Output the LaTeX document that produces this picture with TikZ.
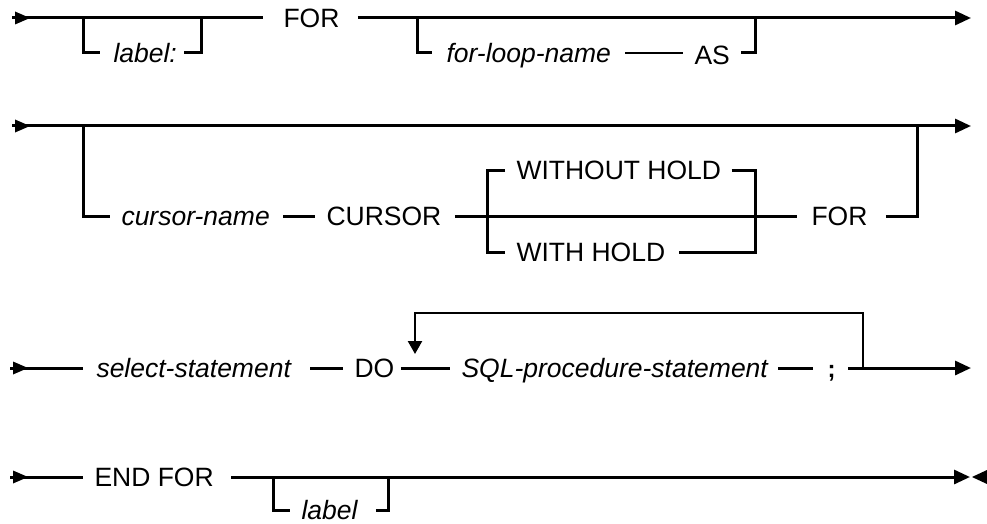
\documentclass[tikz,border=0pt]{standalone}
\usepackage{fontspec}
\setmainfont{Liberation Sans}
\usetikzlibrary{arrows.meta}
\newcommand\synstart[1]{\fill (#1) ++(3,-6.5) -- ++(15,6.5) -- ++(-15,6.5) -- cycle;}
\begin{document}
\begin{tikzpicture}[x=1pt,y=-1pt,
  line width=3pt,
  kw/.style={inner sep=0pt, anchor=west, text height=19pt, text depth=0pt, font=\fontsize{26.5}{30}\selectfont},
  var/.style={kw, font=\fontsize{26.5}{30}\selectfont\itshape},
  endarrow/.style={-{Triangle[length=16pt,width=14pt]}},
  thinline/.style={line width=1.5pt},
  loopline/.style={line width=2.4pt, -{Triangle[length=13pt,width=14pt]}}
]
\useasboundingbox (0,0) rectangle (987,524);
% ---------- row 1 ----------
\coordinate (s1) at (12,18);
\coordinate (e1) at (971,18);
\coordinate (j1a) at (83,18);
\coordinate (j1b) at (201,18);
\coordinate (j1c) at (417,18);
\coordinate (j1d) at (755,18);
\node[kw] (for1) at (282,18) {FOR};
\node[var] (lab1) at (112,53) {label:};
\node[var] (flname) at (445,53) {for-loop-name};
\node[kw, text height=24pt] (as) at (693,53) {AS};
\synstart{s1}
\draw (s1) -- ([xshift=-19]for1.west);
\draw[endarrow] ([xshift=17]for1.east) -- (e1);
\draw (j1a) |- ([xshift=-12]lab1.west);
\draw ([xshift=6]lab1.east) -| (j1b);
\draw (j1c) |- ([xshift=-13]flname.west);
\draw[thinline] ([xshift=13]flname.east) -- ([xshift=-10]as.west);
\draw ([xshift=10]as.east) -| (j1d);
% ---------- row 2 ----------
\coordinate (s2) at (12,126);
\coordinate (e2) at (971,126);
\coordinate (j2a) at (83,126);
\coordinate (j2b) at (917,126);
\coordinate (c2b) at (487,252);
\coordinate (c2d) at (755,252);
\node[var] (curname) at (120,216) {cursor-name};
\node[kw] (cursor) at (325,216) {CURSOR};
\node[kw] (wohold) at (515,170) {WITHOUT HOLD};
\node[kw] (whold) at (515,252) {WITH HOLD};
\node[kw] (for2) at (810,216) {FOR};
\synstart{s2}
\draw[endarrow] (s2) -- (e2);
\draw (j2a) |- ([xshift=-10]curname.west);
\draw ([xshift=12]curname.east) -- ([xshift=-10]cursor.west);
\draw ([xshift=12]cursor.east) -- ([xshift=-13]for2.west);
\draw ([xshift=-10]wohold.west) -| (c2b) -- ([xshift=-10]whold.west);
\draw ([xshift=9]wohold.east) -| (c2d) -- ([xshift=12]whold.east);
\draw ([xshift=17]for2.east) -| (j2b);
% ---------- row 3 ----------
\coordinate (s3) at (10,368);
\coordinate (e3) at (971,368);
\coordinate (lpa) at (863,368);
\coordinate (lpb) at (415,313);
\coordinate (lpc) at (415,354);
\node[var] (sel) at (95,368) {select-statement};
\node[kw] (do) at (353,368) {DO};
\node[var] (sql) at (460,368) {SQL-procedure-statement};
\node[kw, font=\fontsize{24}{28}\selectfont\bfseries] (semi) at (826,368) {;};
\synstart{s3}
\draw (s3) -- ([xshift=-12]sel.west);
\draw ([xshift=18]sel.east) -- ([xshift=-10]do.west);
\draw ([xshift=5]do.east) -- ([xshift=-10]sql.west);
\draw ([xshift=9]sql.east) -- ([xshift=-13]semi.west);
\draw[endarrow] ([xshift=11]semi.east) -- (e3);
\draw[loopline] (lpa) |- (lpb) -- (lpc);
% ---------- row 4 ----------
\coordinate (s4) at (10,477);
\coordinate (e4) at (970,477);
\coordinate (stop) at (987,477);
\coordinate (j4a) at (273,477);
\coordinate (j4b) at (388,477);
\node[kw] (endfor) at (93,477) {END FOR};
\node[var] (lab4) at (300,510) {label};
\synstart{s4}
\draw (s4) -- ([xshift=-10]endfor.west);
\draw[endarrow] ([xshift=16]endfor.east) -- (e4);
\fill (stop) ++(0,-7) -- ++(-15,7) -- ++(15,7) -- cycle;
\draw (j4a) |- ([xshift=-10]lab4.west);
\draw ([xshift=17]lab4.east) -| (j4b);
\end{tikzpicture}
\end{document}
